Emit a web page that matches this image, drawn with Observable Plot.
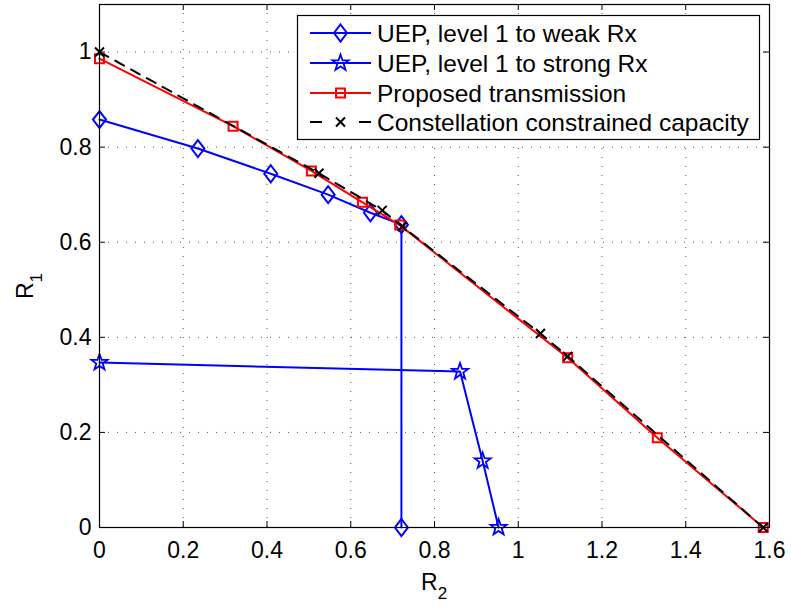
<!DOCTYPE html>
<html><head><meta charset="utf-8">
<script src="https://cdn.jsdelivr.net/npm/d3@7"></script>
<script src="https://cdn.jsdelivr.net/npm/@observablehq/plot@0.6"></script>
<style>
body{margin:0;background:#fff;}
#wrap{position:relative;width:791px;height:606px;}
</style></head><body><div id="wrap"></div>
<script>
// ---- data ----
const xTicks = [0, 0.2, 0.4, 0.6, 0.8, 1, 1.2, 1.4, 1.6];
const yTicks = [0, 0.2, 0.4, 0.6, 0.8, 1];
const seriesNames = ["UEP, level 1 to weak Rx", "UEP, level 1 to strong Rx", "Proposed transmission", "Constellation constrained capacity"];

const weakR2 = [0, 0.235, 0.409, 0.546, 0.647, 0.721, 0.721];
const weakR1 = [0.858, 0.797, 0.744, 0.700, 0.662, 0.637, 0];

const strongR2 = [0, 0.861, 0.915, 0.953];
const strongR1 = [0.347, 0.328, 0.140, 0];

const propR2 = [0, 0.319, 0.506, 0.628, 0.717, 1.118, 1.332, 1.585];
const propR1 = [0.986, 0.844, 0.750, 0.684, 0.636, 0.357, 0.189, 0];

const capR2 = [0, 0.524, 0.675, 0.723, 1.053, 1.118, 1.585];
const capR1 = [1.0, 0.745, 0.667, 0.633, 0.408, 0.360, 0];

// ---- helpers ----
const rows = (xs, ys) => xs.map((x, i) => ({x, y: ys[i]}));
const weak = rows(weakR2, weakR1);
const strong = rows(strongR2, strongR1);
const prop = rows(propR2, propR1);
const cap = rows(capR2, capR1);

const diamondSym = {draw(c){c.moveTo(0,-8.5);c.lineTo(6.5,0);c.lineTo(0,8.5);c.lineTo(-6.5,0);c.closePath();}};
const squareSym = {draw(c){c.moveTo(-4.5,-4.5);c.lineTo(4.5,-4.5);c.lineTo(4.5,4.5);c.lineTo(-4.5,4.5);c.closePath();}};
const starSym = {draw(c){const R=8.5,r=R*0.40;for(let i=0;i<10;i++){const a=-Math.PI/2+i*Math.PI/5;const rr=i%2?r:R;const x=rr*Math.cos(a),y=rr*Math.sin(a);if(i)c.lineTo(x,y);else c.moveTo(x,y);}c.closePath();}};
const crossSym = {draw(c){const s=4.5;c.moveTo(-s,-s);c.lineTo(s,s);c.moveTo(-s,s);c.lineTo(s,-s);}};

const FONT = "'Liberation Sans', Arial, Helvetica, sans-serif";
const fmt = d3.format("~g");
const tickLen = 6;
const gridStyle = {stroke: "#555", strokeDasharray: "1,8", strokeWidth: 1};

const plot = Plot.plot({
  width: 791, height: 606,
  marginLeft: 99, marginRight: 22, marginTop: 4, marginBottom: 79,
  style: {fontFamily: FONT, fontSize: "23px", color: "#000", background: "#fff"},
  x: {domain: [0, 1.6]},
  y: {domain: [0, 1.1]},
  marks: [
    Plot.ruleX(xTicks, {x: d => d, ...gridStyle}),
    Plot.ruleY(yTicks, {y: d => d, ...gridStyle}),
    Plot.line(weak, {x: "x", y: "y", stroke: "#0000ff", strokeWidth: 2}),
    Plot.dot(weak, {x: "x", y: "y", symbol: diamondSym, stroke: "#0000ff", fill: "none", strokeWidth: 2}),
    Plot.line(strong, {x: "x", y: "y", stroke: "#0000ff", strokeWidth: 2}),
    Plot.dot(strong, {x: "x", y: "y", symbol: starSym, stroke: "#0000ff", fill: "none", strokeWidth: 1.8}),
    Plot.line(prop, {x: "x", y: "y", stroke: "#ff0000", strokeWidth: 2}),
    Plot.dot(prop, {x: "x", y: "y", symbol: squareSym, stroke: "#ff0000", fill: "none", strokeWidth: 2}),
    Plot.line(cap, {x: "x", y: "y", stroke: "#000", strokeWidth: 2, strokeDasharray: "10,8"}),
    Plot.dot(cap, {x: "x", y: "y", symbol: crossSym, stroke: "#000", fill: "none", strokeWidth: 2}),
    Plot.frame({stroke: "#000", strokeWidth: 1.2}),
    // inward ticks on all four sides
    Plot.ruleX(xTicks, {x: d => d, y1: 0, y2: 0, insetBottom: tickLen, stroke: "#000"}),
    Plot.ruleX(xTicks, {x: d => d, y1: 1.1, y2: 1.1, insetTop: tickLen, stroke: "#000"}),
    Plot.ruleY(yTicks, {y: d => d, x1: 0, x2: 0, insetRight: -tickLen, stroke: "#000"}),
    Plot.ruleY(yTicks, {y: d => d, x1: 1.6, x2: 1.6, insetLeft: -tickLen, stroke: "#000"}),
    Plot.axisX({ticks: xTicks, tickSize: 0, tickPadding: 14, tickFormat: fmt, label: null, fontSize: 23}),
    Plot.axisY({ticks: yTicks, tickSize: 0, tickPadding: 8, tickFormat: fmt, label: null, fontSize: 23})
  ]
});
document.getElementById("wrap").appendChild(plot);

// ---- axis labels with subscripts ----
const svg = d3.select(plot);
const xl = svg.append("text").attr("x", 421).attr("y", 589.5).attr("text-anchor", "start")
  .attr("font-family", FONT).attr("font-size", 23).attr("fill", "#000");
xl.append("tspan").text("R");
xl.append("tspan").attr("font-size", 17).attr("dy", 9).text("2");

const yl = svg.append("text").attr("transform", "translate(33,299) rotate(-90)").attr("text-anchor", "start")
  .attr("font-family", FONT).attr("font-size", 23).attr("fill", "#000");
yl.append("tspan").text("R");
yl.append("tspan").attr("font-size", 17).attr("dy", 9).text("1");

// ---- legend ----
const lg = svg.append("g");
lg.append("rect").attr("x", 297.5).attr("y", 15.5).attr("width", 462).attr("height", 124)
  .attr("fill", "#fff").attr("stroke", "#000").attr("stroke-width", 1.2);
const legendItems = [
  {name: seriesNames[0], color: "#0000ff", sym: diamondSym, dash: null, sw: 2},
  {name: seriesNames[1], color: "#0000ff", sym: starSym, dash: null, sw: 1.8},
  {name: seriesNames[2], color: "#ff0000", sym: squareSym, dash: null, sw: 2},
  {name: seriesNames[3], color: "#000", sym: crossSym, dash: "12,37", sw: 2}
];
const rowY = [33, 63, 93, 122];
legendItems.forEach((it, i) => {
  const y = rowY[i];
  lg.append("line").attr("x1", 310).attr("x2", 371).attr("y1", y).attr("y2", y)
    .attr("stroke", it.color).attr("stroke-width", 2).attr("stroke-dasharray", it.dash);
  lg.append("path").attr("d", d3.symbol(it.sym)()).attr("transform", `translate(340.5,${y})`)
    .attr("fill", "none").attr("stroke", it.color).attr("stroke-width", it.sw);
  lg.append("text").attr("x", 377).attr("y", y).attr("dy", "0.36em").attr("text-anchor", "start")
    .attr("font-family", FONT).attr("font-size", 24.5).attr("fill", "#000").text(it.name);
});
</script></body></html>
